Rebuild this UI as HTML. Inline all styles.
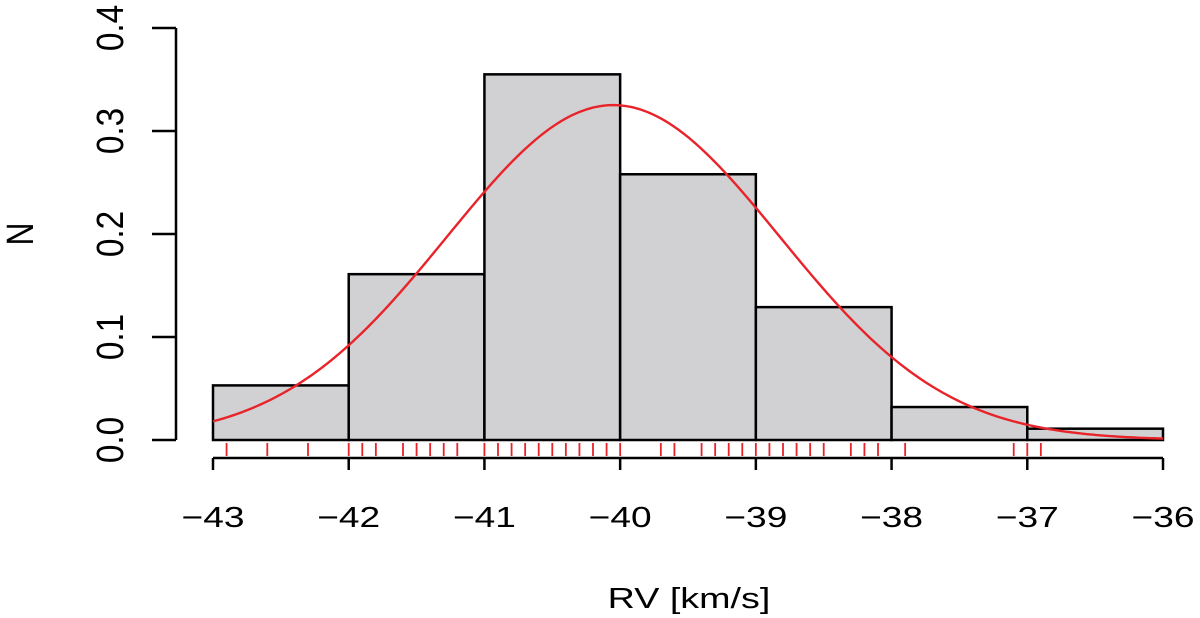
<!DOCTYPE html>
<html><head><meta charset="utf-8"><style>
html,body{margin:0;padding:0;background:#fff}
svg{display:block}
text{font-family:"Liberation Sans",sans-serif;font-size:29px;fill:#000}
</style></head><body>
<svg id="chart" width="1200" height="618" viewBox="0 0 1200 618" xmlns="http://www.w3.org/2000/svg">
<g id="bars"></g>
<path id="curve" fill="none" stroke="#e8232a" stroke-width="2.4"/>
<g id="rug"></g>
<g id="xaxis"></g>
<g id="yaxis"></g>
<text x="0" y="0" text-anchor="middle" transform="translate(689,608) scale(1.3,1)">RV [km/s]</text>
<text x="0" y="0" text-anchor="middle" transform="translate(33,234) rotate(-90) scale(1.1,1.3)">N</text>
</svg>
<script>
const binEdges = [-43, -42, -41, -40, -39, -38, -37, -36];
const binDensity = [0.053, 0.161, 0.355, 0.258, 0.129, 0.032, 0.011];
const rugValues = [-42.9,-42.6,-42.3,-42.0,-41.9,-41.8,-41.6,-41.5,-41.4,-41.3,-41.2,-41.0,-40.9,-40.8,-40.7,-40.6,-40.5,-40.4,-40.3,-40.2,-40.1,-40.0,-39.7,-39.6,-39.4,-39.3,-39.2,-39.1,-39.0,-38.9,-38.8,-38.7,-38.6,-38.5,-38.3,-38.2,-38.1,-37.9,-37.1,-37.0,-36.9];
const fitMean = -40.05;
const fitSd = 1.227;
const xTicks = [-43, -42, -41, -40, -39, -38, -37, -36];
const xTickLabels = ["\u221243","\u221242","\u221241","\u221240","\u221239","\u221238","\u221237","\u221236"];
const yTicks = [0, 0.1, 0.2, 0.3, 0.4];
const yTickLabels = ["0.0","0.1","0.2","0.3","0.4"];

const NS="http://www.w3.org/2000/svg";
const X=v=>213+(v+43)*(950/7);
const Y=v=>440-v*(412/0.4);
function mk(tag,attrs,parent){const e=document.createElementNS(NS,tag);for(const k in attrs)e.setAttribute(k,attrs[k]);parent.appendChild(e);return e;}

const bars=document.getElementById('bars');
binDensity.forEach((d,i)=>{
  const r=mk('rect',{x:X(binEdges[i]),y:Y(d),width:X(binEdges[i+1])-X(binEdges[i]),height:Y(0)-Y(d),fill:'#d1d1d4',stroke:'#000','stroke-width':2.5},bars);
  
  
});

let p='';
for(let i=0;i<=300;i++){
  const v=-43+7*i/300;
  const dens=Math.exp(-Math.pow(v-fitMean,2)/(2*fitSd*fitSd))/(fitSd*Math.sqrt(2*Math.PI));
  p+=(i?'L':'M')+X(v).toFixed(2)+' '+Y(dens).toFixed(2);
}
document.getElementById('curve').setAttribute('d',p);

const rug=document.getElementById('rug');
rugValues.forEach(v=>{
  const l=mk('line',{x1:X(v),x2:X(v),y1:443,y2:456,stroke:'#e8232a','stroke-width':1.8},rug);
  
  
});

const xa=document.getElementById('xaxis');
mk('line',{x1:X(xTicks[0]),x2:X(xTicks[xTicks.length-1]),y1:458,y2:458,stroke:'#000','stroke-width':2.5},xa);
xTicks.forEach((t,i)=>{
  mk('line',{x1:X(t),x2:X(t),y1:458,y2:470,stroke:'#000','stroke-width':2.5},xa);
  const tx=mk('text',{x:0,y:0,'text-anchor':'middle',transform:`translate(${X(t)},527) scale(1.28,1)`},xa);
  tx.textContent=xTickLabels[i];
  
  
});

const ya=document.getElementById('yaxis');
mk('line',{x1:176,x2:176,y1:Y(yTicks[0]),y2:Y(yTicks[yTicks.length-1]),stroke:'#000','stroke-width':2.5},ya);
yTicks.forEach((t,i)=>{
  mk('line',{x1:152,x2:176,y1:Y(t),y2:Y(t),stroke:'#000','stroke-width':2.5},ya);
  const tx=mk('text',{x:0,y:0,'text-anchor':'middle',transform:`translate(123,${Y(t)}) rotate(-90) scale(1.15,1.3)`},ya);
  tx.textContent=yTickLabels[i];
  
  
});
</script>
</body></html>
